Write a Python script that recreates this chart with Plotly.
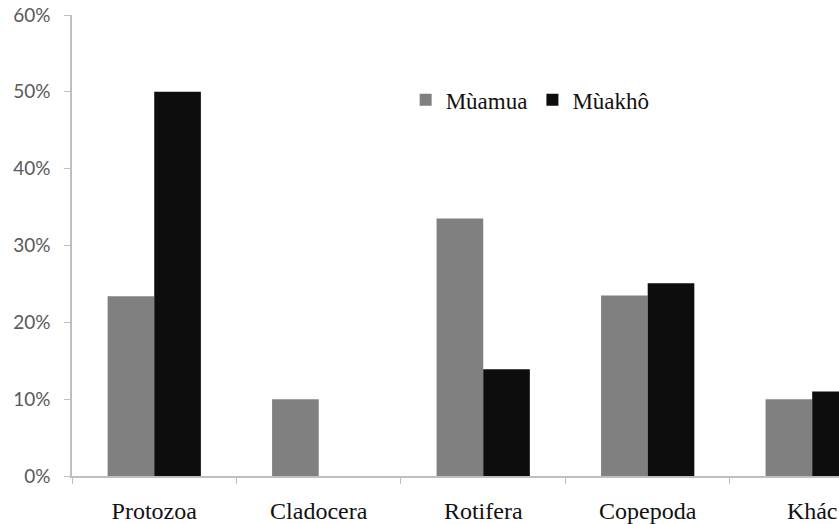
import plotly.graph_objects as go

categories = ["Protozoa", "Cladocera", "Rotifera", "Copepoda", "Khác"]
mua_mua = [0.234, 0.10, 0.335, 0.235, 0.10]
mua_kho = [0.50, 0.0, 0.139, 0.251, 0.11]
series_names = ["Mùamua", "Mùakhô"]
y_ticks = [0, 0.1, 0.2, 0.3, 0.4, 0.5, 0.6]
y_tick_labels = ["0%", "10%", "20%", "30%", "40%", "50%", "60%"]

fig = go.Figure()
fig.add_trace(go.Bar(x=categories, y=mua_mua, name=series_names[0],
                     marker=dict(color="#808080", line=dict(width=0))))
fig.add_trace(go.Bar(x=categories, y=mua_kho, name=series_names[1],
                     marker=dict(color="#0d0d0d", line=dict(width=0))))

fig.update_layout(
    width=839, height=524,
    margin=dict(l=72, r=0, t=15, b=46, pad=0),
    paper_bgcolor="white", plot_bgcolor="white",
    barmode="group", bargap=0.433, bargroupgap=0,
    showlegend=True,
    legend=dict(orientation="h", x=0.435, y=0.816, xanchor="left", yanchor="middle",
                font=dict(family="Liberation Serif", size=23, color="#111111"),
                itemwidth=30, bgcolor="rgba(0,0,0,0)", traceorder="normal"),
    xaxis=dict(
        type="category", range=[-0.5, 4.163],
        showline=True, linecolor="#bfbfbf", linewidth=1.5,
        ticks="outside", tickson="boundaries", ticklen=6, tickcolor="#bfbfbf", tickwidth=1,
        tickfont=dict(family="Liberation Serif", size=24, color="#111111"),
        ticklabelstandoff=12,
        showgrid=False, zeroline=False,
    ),
    yaxis=dict(
        range=[0, 0.6], tickvals=y_ticks, ticktext=y_tick_labels,
        showline=True, linecolor="#bfbfbf", linewidth=1.5,
        ticks="outside", ticklen=6, tickcolor="#bfbfbf", tickwidth=1,
        tickfont=dict(family="Lato", size=19, color="#595959"),
        ticklabelstandoff=10,
        showgrid=False, zeroline=False,
    ),
)

fig.write_html("out.html")
